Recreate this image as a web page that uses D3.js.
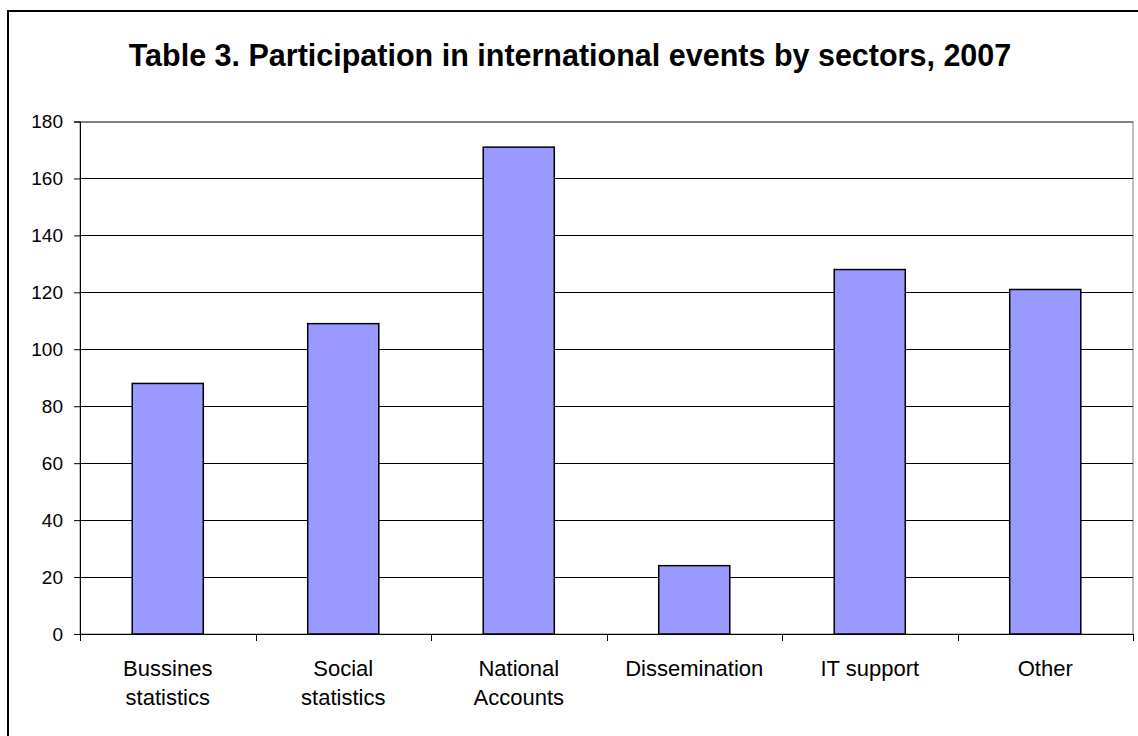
<!DOCTYPE html>
<html><head><meta charset="utf-8">
<script src="https://cdn.jsdelivr.net/npm/d3@7"></script>
<style>body{margin:0;background:#fff}svg{display:block;font-family:"Liberation Sans",Arial,sans-serif}</style>
</head><body><svg id="c" width="1138" height="736"></svg>
<script>
const categories = [["Bussines","statistics"],["Social","statistics"],["National","Accounts"],["Dissemination"],["IT support"],["Other"]];
const values = [88, 109, 171, 24, 128, 121];
const yTicks = [0,20,40,60,80,100,120,140,160,180];
const title = "Table 3. Participation in international events by sectors, 2007";

const svg = d3.select("#c");
const m = {l:80, r:1133, t:121.5, b:634};
svg.append("rect").attr("x",8).attr("y",11).attr("width",1200).attr("height",800)
  .attr("fill","#fff").attr("stroke","#000").attr("stroke-width",2);
svg.append("text").attr("x",570).attr("y",66).attr("text-anchor","middle")
  .attr("font-size",30.5).attr("font-weight","bold").text(title);

const keys = categories.map((c,i)=>i);
const x = d3.scaleBand().domain(keys).range([m.l,m.r]).paddingInner(0.595).paddingOuter(0.2975);
const xb = d3.scaleBand().domain(keys).range([m.l,m.r]);
const y = d3.scaleLinear().domain([0,180]).range([m.b,m.t]);

svg.append("rect").attr("x",m.l).attr("y",m.t).attr("width",m.r-m.l).attr("height",m.b-m.t)
  .attr("fill","none").attr("stroke","#808080").attr("stroke-width",1);
svg.append("g").selectAll("line").data(yTicks.filter(d=>d>0)).join("line")
  .attr("x1",m.l).attr("x2",m.r).attr("y1",d=>Math.round(y(d))+0.5).attr("y2",d=>Math.round(y(d))+0.5)
  .attr("stroke",d=>d===180?"#808080":"#000").attr("stroke-width",1);

svg.append("g").selectAll("rect").data(values).join("rect")
  .attr("x",(d,i)=>x(i)).attr("width",x.bandwidth())
  .attr("y",d=>y(d)).attr("height",d=>y(0)-y(d))
  .attr("fill","#9999FF").attr("stroke","#000").attr("stroke-width",1.5);

const ya = svg.append("g").attr("transform",`translate(${m.l},0)`)
  .call(d3.axisLeft(y).tickValues(yTicks).tickSize(6).tickPadding(11).tickFormat(d3.format("d")));
ya.select(".domain").attr("stroke","#000");
ya.selectAll("text").attr("font-size",19).attr("fill","#000").attr("font-family","Liberation Sans, Arial, sans-serif");

const xa = svg.append("g");
xa.append("line").attr("x1",m.l).attr("x2",m.r).attr("y1",m.b+0.5).attr("y2",m.b+0.5).attr("stroke","#000");
const bounds = keys.map(k=>xb(k)).concat([m.r]);
xa.selectAll("line.t").data(bounds).join("line").attr("class","t")
  .attr("x1",d=>Math.round(d)+0.5).attr("x2",d=>Math.round(d)+0.5).attr("y1",m.b).attr("y2",m.b+7).attr("stroke","#000");
const lab = xa.selectAll("text.l").data(categories).join("text").attr("class","l")
  .attr("x",(d,i)=>xb(i)+xb.bandwidth()/2).attr("y",676)
  .attr("text-anchor","middle").attr("font-size",22);
lab.each(function(d){
  const t = d3.select(this);
  d.forEach((s,j)=>t.append("tspan").attr("x",t.attr("x")).attr("dy",j===0?0:29).text(s));
});
</script></body></html>
